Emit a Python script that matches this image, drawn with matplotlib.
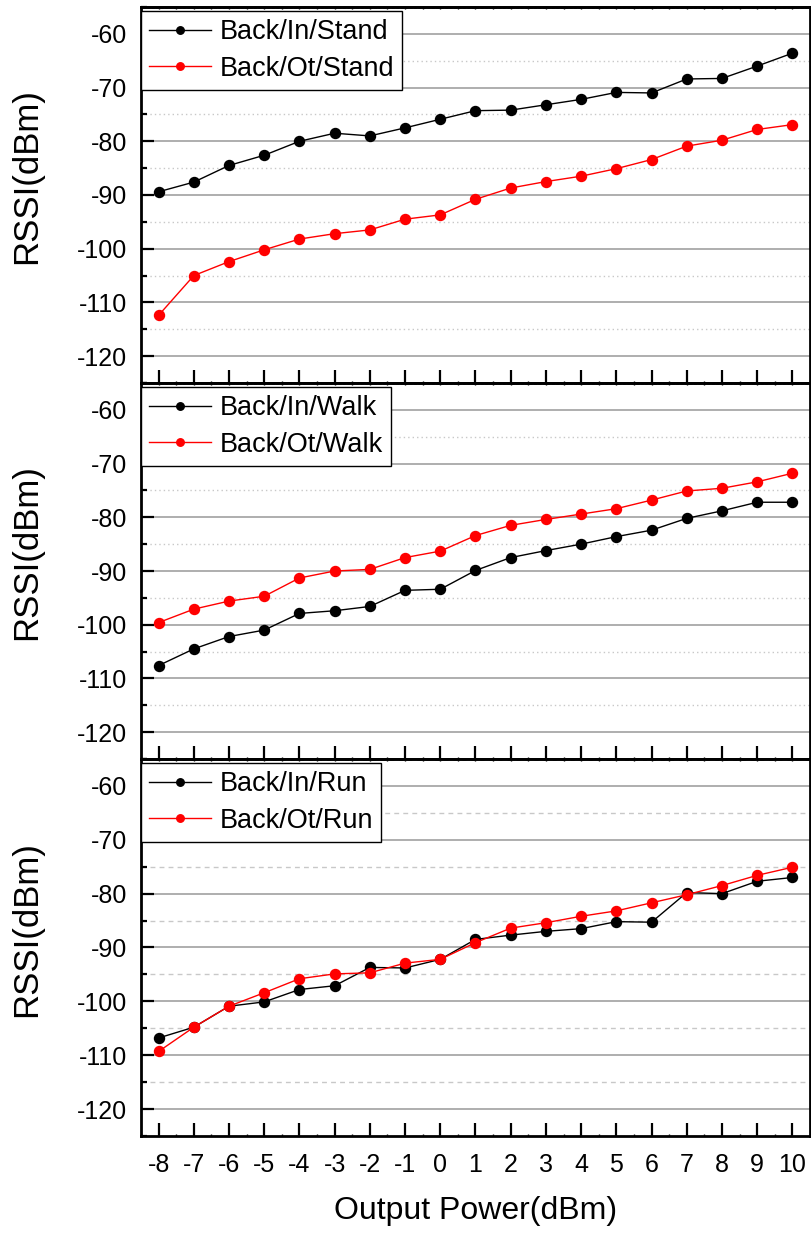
import matplotlib
matplotlib.use("Agg")
import matplotlib.pyplot as plt
from matplotlib.ticker import MultipleLocator

plt.rcParams['font.family'] = ['Liberation Sans', 'DejaVu Sans']

power = [-8, -7, -6, -5, -4, -3, -2, -1, 0, 1, 2, 3, 4, 5, 6, 7, 8, 9, 10]

in_stand = [-89.4, -87.6, -84.5, -82.6, -80.0, -78.5, -79.0, -77.5, -75.9, -74.3,
            -74.2, -73.2, -72.2, -70.9, -71.0, -68.4, -68.3, -66.0, -63.6]
ot_stand = [-112.4, -105.0, -102.4, -100.2, -98.2, -97.2, -96.5, -94.5, -93.7, -90.8,
            -88.7, -87.5, -86.5, -85.1, -83.4, -80.9, -79.8, -77.8, -76.9]

in_walk = [-107.6, -104.5, -102.2, -101.0, -97.9, -97.4, -96.6, -93.6, -93.4, -89.9,
           -87.5, -86.2, -85.0, -83.6, -82.4, -80.2, -78.8, -77.2, -77.2]
ot_walk = [-99.6, -97.1, -95.6, -94.7, -91.3, -90.0, -89.7, -87.5, -86.3, -83.4,
           -81.5, -80.4, -79.4, -78.4, -76.8, -75.1, -74.6, -73.4, -71.8]

in_run = [-106.8, -104.8, -100.9, -100.1, -97.8, -97.1, -93.7, -93.8, -92.2, -88.5,
          -87.7, -87.0, -86.5, -85.2, -85.3, -79.8, -80.0, -77.7, -77.0]
ot_run = [-109.3, -104.8, -100.9, -98.4, -95.8, -94.9, -94.7, -92.9, -92.2, -89.1,
          -86.4, -85.4, -84.2, -83.2, -81.7, -80.2, -78.5, -76.6, -75.1]

panels = [
    ("Back/In/Stand", in_stand, "Back/Ot/Stand", ot_stand),
    ("Back/In/Walk", in_walk, "Back/Ot/Walk", ot_walk),
    ("Back/In/Run", in_run, "Back/Ot/Run", ot_run),
]

W, H = 811, 1242
fig = plt.figure(figsize=(W / 100, H / 100), dpi=100)

left = 141 / W
width = 669 / W
tops = [7, 383, 759]
bottoms = [383, 759, 1136]

minor_styles = [(0, (1, 2.2)), (0, (1, 2.2)), (0, (3.5, 3))]

for i, (lab1, y1, lab2, y2) in enumerate(panels):
    b = 1 - bottoms[i] / H
    h = (bottoms[i] - tops[i]) / H
    ax = fig.add_axes([left, b, width, h])
    ax.set_xlim(-8.5, 10.5)
    ax.set_ylim(-125, -55)
    ax.yaxis.set_major_locator(MultipleLocator(10))
    ax.yaxis.set_minor_locator(MultipleLocator(5))
    ax.xaxis.set_major_locator(MultipleLocator(1))
    ax.xaxis.set_minor_locator(MultipleLocator(0.5))

    ax.grid(True, which='major', axis='y', color='#a8a8a8', linewidth=1.3, zorder=0)
    ax.grid(True, which='minor', axis='y', color='#c8c8c8', linewidth=1.0,
            linestyle=minor_styles[i], zorder=0)
    ax.set_axisbelow(True)

    ax.plot(power, y1, color='black', linewidth=1.0, marker='o', markersize=7.2,
            markeredgecolor='black', label=lab1, zorder=3)
    ax.plot(power, y2, color='#ff0000', linewidth=1.0, marker='o', markersize=7.2,
            markeredgecolor='#ff0000', label=lab2, zorder=3)

    for s in ax.spines.values():
        s.set_linewidth(2.0)

    ax.tick_params(axis='both', which='major', direction='in', width=1.6, length=9.5,
                   labelsize=18)
    ax.tick_params(axis='y', which='major', pad=10)
    ax.tick_params(axis='y', which='minor', direction='in', width=1.6, length=4)
    ax.tick_params(axis='x', which='minor', direction='in', width=1.0, length=1.5)
    ax.tick_params(axis='x', which='major', pad=12)

    ax.set_yticks([-60, -70, -80, -90, -100, -110, -120])
    ax.set_yticklabels(['-60', '-70', '-80', '-90', '-100', '-110', '-120'])
    xt = list(range(-8, 11))
    ax.set_xticks(xt)
    if i == 2:
        ax.set_xticklabels([str(v) for v in xt])
        ax.set_xlabel('Output Power(dBm)', fontsize=23, labelpad=14)
    else:
        ax.set_xticklabels([])

    sec = ax.secondary_xaxis('top')
    sec.set_xticks(xt)
    sec.xaxis.set_minor_locator(MultipleLocator(0.5))
    sec.tick_params(which='both', direction='in', length=1.5, width=1.0, labeltop=False)
    sec.spines['top'].set_linewidth(2.0)

    ax.set_ylabel('RSSI(dBm)', fontsize=25)
    ax.yaxis.set_label_coords(-0.147, 0.55)

    leg = ax.legend(loc='upper left', bbox_to_anchor=(0.0, 1 - 4 / 376),
                    borderaxespad=0.0, fontsize=19.5, frameon=True, fancybox=False,
                    edgecolor='black', framealpha=1.0, handlelength=2.3,
                    handletextpad=0.3, labelspacing=0.4, borderpad=0.3,
                    markerscale=0.75)
    leg.get_frame().set_linewidth(1.0)
    leg.set_zorder(5)

fig.savefig('out.png', dpi=100)
